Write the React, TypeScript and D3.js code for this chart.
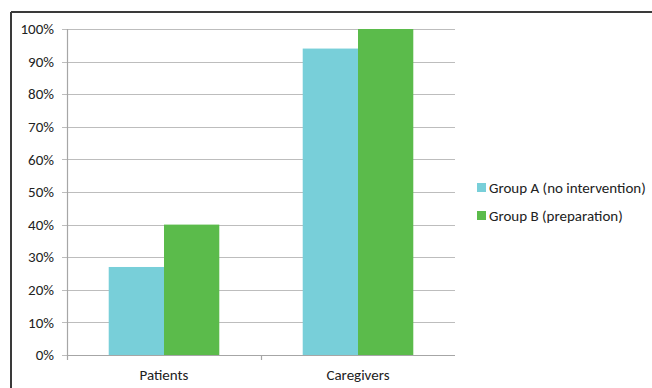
import { useEffect, useRef } from 'react';
import * as d3 from 'd3';

const categories = ['Patients', 'Caregivers'];
const seriesNames = ['Group A (no intervention)', 'Group B (preparation)'];
const groupA = [27, 94];
const groupB = [40, 100];
const yTicks = [0, 10, 20, 30, 40, 50, 60, 70, 80, 90, 100];
const colors = ['#78cfd9', '#5bbb4b'];

const WIDTH = 652;
const HEIGHT = 388;
const MARGIN = { top: 29, right: 197, bottom: 33, left: 67 };
const FONT = 'Carlito, Lato, "Open Sans", sans-serif';
const FONT_SIZE = 15;

export default function App() {
  const svgRef = useRef<SVGSVGElement>(null);

  useEffect(() => {
    if (!svgRef.current) return;
    const svg = d3.select(svgRef.current);
    svg.selectAll('*').remove();

    const innerW = WIDTH - MARGIN.left - MARGIN.right;
    const innerH = HEIGHT - MARGIN.top - MARGIN.bottom;

    // outer frame (only top and left edges visible in the crop)
    svg.append('line').attr('x1', 11).attr('x2', WIDTH).attr('y1', 12).attr('y2', 12)
      .attr('stroke', '#3a3a3a').attr('stroke-width', 2);
    svg.append('line').attr('x1', 11).attr('x2', 11).attr('y1', 12).attr('y2', HEIGHT)
      .attr('stroke', '#3a3a3a').attr('stroke-width', 2);

    const g = svg.append('g').attr('transform', `translate(${MARGIN.left},${MARGIN.top})`);

    const x0 = d3.scaleBand().domain(categories).range([0, innerW]).paddingInner(0.43).paddingOuter(0.215);
    const x1 = d3.scaleBand().domain(seriesNames).range([0, x0.bandwidth()]);
    const y = d3.scaleLinear().domain([0, 100]).range([innerH, 0]);

    // gridlines + y tick marks
    g.append('g')
      .selectAll('line')
      .data(yTicks)
      .join('line')
      .attr('x1', -5)
      .attr('x2', innerW)
      .attr('y1', (d) => Math.round(y(d)) + 0.5)
      .attr('y2', (d) => Math.round(y(d)) + 0.5)
      .attr('stroke', '#bdbdbd')
      .attr('stroke-width', 1.2);

    g.append('g')
      .selectAll('text')
      .data(yTicks)
      .join('text')
      .attr('x', -13)
      .attr('y', (d) => y(d))
      .attr('dy', '0.35em')
      .attr('text-anchor', 'end')
      .attr('font-family', FONT)
      .attr('font-size', FONT_SIZE)
      .attr('fill', '#222')
      .text((d) => `${d}%`);

    // bars
    const data = categories.map((c, i) => ({ c, vals: [groupA[i], groupB[i]] }));
    g.append('g')
      .selectAll('g')
      .data(data)
      .join('g')
      .attr('transform', (d) => `translate(${x0(d.c)},0)`)
      .selectAll('rect')
      .data((d) => d.vals.map((v, j) => ({ v, s: seriesNames[j], j })))
      .join('rect')
      .attr('x', (d) => x1(d.s)!)
      .attr('width', x1.bandwidth())
      .attr('y', (d) => y(d.v))
      .attr('height', (d) => innerH - y(d.v))
      .attr('fill', (d) => colors[d.j]);

    // axes lines
    g.append('line').attr('x1', 0.5).attr('x2', 0.5).attr('y1', 0).attr('y2', innerH + 0.5)
      .attr('stroke', '#a6a6a6').attr('stroke-width', 1.2);
    g.append('line').attr('x1', 0).attr('x2', innerW).attr('y1', innerH + 0.5).attr('y2', innerH + 0.5)
      .attr('stroke', '#a6a6a6').attr('stroke-width', 1.2);
    // category separator ticks
    [0, innerW / 2].forEach((t) => {
      g.append('line').attr('x1', t + 0.5).attr('x2', t + 0.5).attr('y1', innerH).attr('y2', innerH + 5)
        .attr('stroke', '#a6a6a6').attr('stroke-width', 1.2);
    });

    g.append('g')
      .selectAll('text')
      .data(categories)
      .join('text')
      .attr('x', (d) => x0(d)! + x0.bandwidth() / 2)
      .attr('y', innerH + 25)
      .attr('text-anchor', 'middle')
      .attr('font-family', FONT)
      .attr('font-size', FONT_SIZE)
      .attr('fill', '#222')
      .text((d) => d);

    // legend
    const legend = svg.append('g').attr('transform', 'translate(477,183)');
    seriesNames.forEach((name, i) => {
      const row = legend.append('g').attr('transform', `translate(0,${i * 28})`);
      row.append('rect').attr('width', 9).attr('height', 9).attr('fill', colors[i]);
      row.append('text')
        .attr('x', 12)
        .attr('y', 5)
        .attr('dy', '0.35em')
        .attr('font-family', FONT)
        .attr('font-size', FONT_SIZE)
        .attr('fill', '#222')
        .text(name);
    });
  }, []);

  return (
    <svg
      ref={svgRef}
      width={WIDTH}
      height={HEIGHT}
      viewBox={`0 0 ${WIDTH} ${HEIGHT}`}
      style={{ position: 'absolute', left: 0, top: 0, background: '#fff' }}
    />
  );
}
